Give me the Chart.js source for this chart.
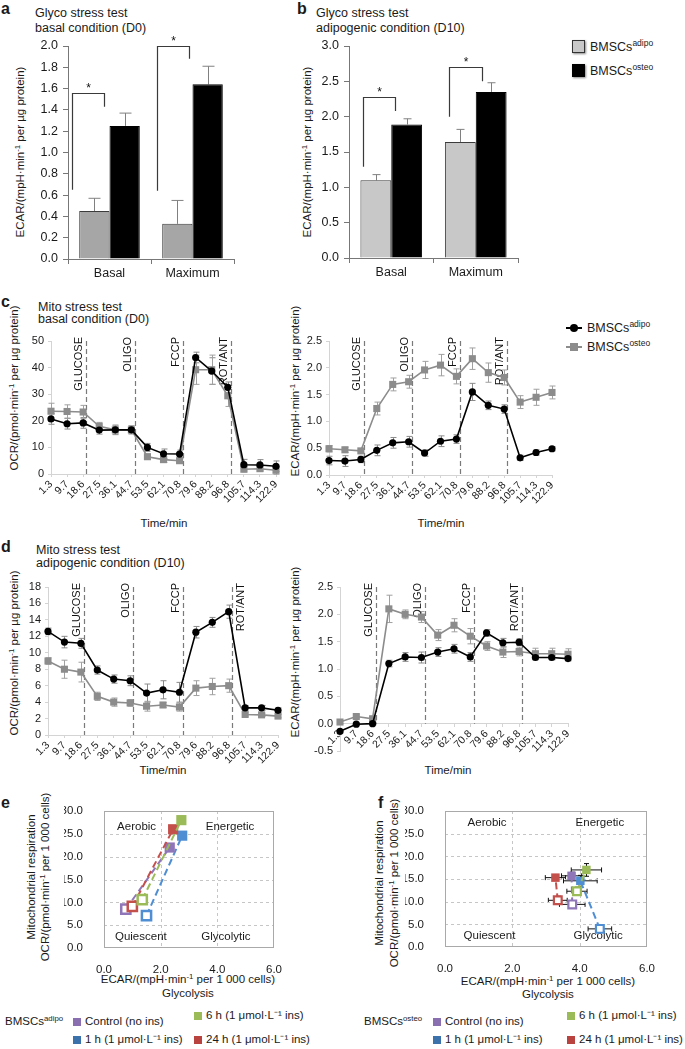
<!DOCTYPE html>
<html>
<head>
<meta charset="utf-8">
<script src="https://cdn.jsdelivr.net/npm/chart.js@4.4.1/dist/chart.umd.min.js"></script>
<style>
body { margin: 0; background: #fff; }
#page { position: relative; width: 685px; height: 1049px; overflow: hidden;
  font-family: "Liberation Sans", Arial, Helvetica, sans-serif; color: #1a1a1a; }
canvas { position: absolute; }
.t { position: absolute; white-space: nowrap; font-size: 12.5px; line-height: 1; transform: translateY(-50%); }
.c { position: absolute; white-space: nowrap; font-size: 11.5px; line-height: 1; transform: translate(-50%, -50%); }
.r { position: absolute; white-space: nowrap; font-size: 11.5px; line-height: 1; transform: translate(-50%, -50%) rotate(-90deg); }
.lt { font-weight: bold; font-size: 16px; }
.sq { position: absolute; width: 8px; height: 8px; }
sup { font-size: 0.68em; vertical-align: 0.55em; line-height: 0; }
</style>
</head>
<body>
<div id="page">
  <!-- panel a / b headings -->
  <div class="t lt" style="left:1px;top:9px">a</div>
  <div class="t" style="left:35px;top:13px">Glyco stress test</div>
  <div class="t" style="left:35px;top:28px">basal condition (D0)</div>
  <div class="r" style="left:21px;top:152px">ECAR/(mpH·min<sup>-1</sup> per µg protein)</div>
  <div class="t lt" style="left:297px;top:9px">b</div>
  <div class="t" style="left:316px;top:13px">Glyco stress test</div>
  <div class="t" style="left:316px;top:28px">adipogenic condition (D10)</div>
  <div class="r" style="left:308px;top:152px">ECAR/(mpH·min<sup>-1</sup> per µg protein)</div>
  <div class="sq" style="left:572px;top:40px;width:11px;height:11px;background:#c8c8c8;border:1px solid #333;box-shadow:1px 1px 2px #888"></div>
  <div class="t" style="left:590px;top:47px">BMSCs<sup>adipo</sup></div>
  <div class="sq" style="left:572px;top:64px;width:11px;height:11px;background:#000;border:1px solid #000;box-shadow:1px 1px 2px #888"></div>
  <div class="t" style="left:590px;top:71px">BMSCs<sup>osteo</sup></div>

  <!-- panel c headings -->
  <div class="t lt" style="left:1px;top:302px">c</div>
  <div class="t" style="left:38px;top:307px">Mito stress test</div>
  <div class="t" style="left:38px;top:319px">basal condition (D0)</div>
  <div class="r" style="left:15px;top:388px">OCR/(pmol·min<sup>-1</sup> per µg protein)</div>
  <div class="r" style="left:296px;top:391px">ECAR/(mpH·min<sup>-1</sup> per µg protein)</div>
  <div class="c" style="left:164px;top:524px">Time/min</div>
  <div class="c" style="left:441px;top:524px">Time/min</div>
  <div style="position:absolute;left:566px;top:327px;width:16px;height:2px;background:#000"></div>
  <div style="position:absolute;left:570px;top:324px;width:8px;height:8px;border-radius:50%;background:#000"></div>
  <div class="t" style="left:587px;top:328px">BMSCs<sup>adipo</sup></div>
  <div style="position:absolute;left:566px;top:346px;width:16px;height:2px;background:#8c8c8c"></div>
  <div style="position:absolute;left:570px;top:343px;width:8px;height:8px;background:#8c8c8c"></div>
  <div class="t" style="left:587px;top:347px">BMSCs<sup>osteo</sup></div>

  <!-- panel d headings -->
  <div class="t lt" style="left:1px;top:547px">d</div>
  <div class="t" style="left:36px;top:550px">Mito stress test</div>
  <div class="t" style="left:36px;top:563px">adipogenic condition (D10)</div>
  <div class="r" style="left:15px;top:653px">OCR/(pmol·min<sup>-1</sup> per µg protein)</div>
  <div class="r" style="left:296px;top:652px">ECAR/(mpH·min<sup>-1</sup> per µg protein)</div>
  <div class="c" style="left:163px;top:771px">Time/min</div>
  <div class="c" style="left:448px;top:771px">Time/min</div>

  <!-- panel e / f headings -->
  <div class="t lt" style="left:1px;top:803px">e</div>
  <div class="r" style="left:32px;top:877px">Mitochondrial respiration</div>
  <div class="r" style="left:46px;top:877px">OCR/(pmol·min<sup>-1</sup> per 1 000 cells)</div>
  <div class="c" style="left:188px;top:980px">ECAR/(mpH·min<sup>-1</sup> per 1 000 cells)</div>
  <div class="c" style="left:188px;top:994px">Glycolysis</div>
  <div class="t lt" style="left:378px;top:803px">f</div>
  <div class="r" style="left:380px;top:883px">Mitochondrial respiration</div>
  <div class="r" style="left:395px;top:883px">OCR/(pmol·min<sup>-1</sup> per 1 000 cells)</div>
  <div class="c" style="left:548px;top:982px">ECAR/(mpH·min<sup>-1</sup> per 1 000 cells)</div>
  <div class="c" style="left:548px;top:995px">Glycolysis</div>
  <div id="legE"></div>
  <div id="legF"></div>

  <canvas id="chartA"></canvas>
  <canvas id="chartB"></canvas>
  <canvas id="chartC1"></canvas>
  <canvas id="chartC2"></canvas>
  <canvas id="chartD1"></canvas>
  <canvas id="chartD2"></canvas>
  <canvas id="chartE"></canvas>
  <canvas id="chartF"></canvas>
</div>
<script>
// ---- data ----
const barGroups = ['Basal', 'Maximum'];
const aAdipo = [0.45, 0.33];
const aAdipoErr = [0.12, 0.22];
const aOsteo = [1.25, 1.64];
const aOsteoErr = [0.12, 0.17];
const bAdipo = [1.10, 1.64];
const bAdipoErr = [0.08, 0.18];
const bOsteo = [1.89, 2.35];
const bOsteoErr = [0.08, 0.13];

const timeLabels = ['1.3', '9.7', '18.6', '27.5', '36.1', '44.7', '53.5', '62.1', '70.8', '79.6', '88.2', '96.8', '105.7', '114.3', '122.9'];
const injections = ['GLUCOSE', 'OLIGO', 'FCCP', 'ROT/ANT'];
const injectionAt = [2.2, 5.2, 8.2, 11.2];

const cOcrAdipo = [20.7, 18.9, 19.2, 16.5, 16.6, 16.6, 10.0, 7.6, 7.5, 43.8, 38.7, 32.6, 3.5, 3.4, 2.9];
const cOcrAdipoErr = [2.0, 2.0, 2.0, 1.5, 1.8, 1.5, 1.5, 1.8, 1.5, 2.0, 5.0, 2.0, 2.0, 2.0, 2.0];
const cOcrOsteo = [23.6, 23.5, 23.3, 17.9, 16.6, 16.6, 6.5, 5.4, 5.0, 39.2, 39.2, 29.4, 1.8, 2.0, 1.4];
const cOcrOsteoErr = [3.0, 2.5, 2.5, 1.5, 1.5, 1.5, 1.0, 1.0, 1.0, 5.5, 5.5, 4.0, 1.0, 1.0, 1.5];
const cEcarAdipo = [0.27, 0.26, 0.29, 0.46, 0.60, 0.62, 0.41, 0.63, 0.67, 1.55, 1.30, 1.23, 0.32, 0.42, 0.49];
const cEcarAdipoErr = [0.08, 0.10, 0.06, 0.10, 0.10, 0.10, 0.06, 0.10, 0.08, 0.16, 0.08, 0.08, 0.05, 0.05, 0.04];
const cEcarOsteo = [0.49, 0.47, 0.45, 1.24, 1.69, 1.74, 1.96, 2.05, 1.84, 2.17, 1.91, 1.82, 1.36, 1.45, 1.54];
const cEcarOsteoErr = [0.06, 0.05, 0.04, 0.12, 0.12, 0.12, 0.16, 0.20, 0.14, 0.20, 0.18, 0.14, 0.12, 0.15, 0.12];

const dOcrAdipo = [12.6, 11.3, 11.15, 7.9, 6.8, 6.6, 5.1, 5.5, 5.2, 12.5, 13.7, 15.0, 3.3, 3.3, 3.0];
const dOcrAdipoErr = [0.4, 0.7, 0.6, 0.5, 0.5, 0.6, 1.1, 1.1, 1.2, 0.7, 0.6, 0.8, 0.3, 0.3, 0.3];
const dOcrOsteo = [9.0, 8.0, 7.65, 4.7, 4.0, 3.9, 3.5, 3.65, 3.4, 5.7, 5.9, 6.0, 2.5, 2.45, 2.3];
const dOcrOsteoErr = [0.4, 1.1, 1.2, 0.5, 0.5, 0.4, 0.6, 0.3, 0.5, 0.9, 1.0, 0.8, 0.2, 0.2, 0.2];
const dEcarAdipo = [-0.14, -0.01, 0.0, 1.1, 1.22, 1.21, 1.31, 1.37, 1.22, 1.66, 1.48, 1.49, 1.21, 1.21, 1.19];
const dEcarAdipoErr = [0.03, 0.02, 0.02, 0.06, 0.08, 0.1, 0.08, 0.08, 0.08, 0.06, 0.08, 0.06, 0.04, 0.04, 0.04];
const dEcarOsteo = [0.03, 0.13, 0.09, 2.1, 2.0, 1.95, 1.62, 1.8, 1.6, 1.42, 1.31, 1.32, 1.28, 1.28, 1.27];
const dEcarOsteoErr = [0.03, 0.03, 0.03, 0.25, 0.08, 0.1, 0.1, 0.12, 0.14, 0.08, 0.1, 0.08, 0.1, 0.1, 0.1];

const insulinGroups = ['Control (no ins)', '1 h (1 μmol·L⁻¹ ins)', '6 h (1 μmol·L⁻¹ ins)', '24 h (1 μmol·L⁻¹ ins)'];
const groupColors = ['#8f76b8', '#4f8ed3', '#9bbb59', '#c4504c'];
const legendColors = ['#8a6fb0', '#3c72ab', '#9bbb59', '#b9443f'];
const eBaseEcar = [0.77, 1.5, 1.35, 1.0];
const eBaseOcr = [8.5, 7.1, 10.6, 9.1];
const eStressEcar = [2.32, 2.76, 2.73, 2.44];
const eStressOcr = [22.0, 24.6, 28.0, 26.0];
const fBaseEcar = [3.78, 4.6, 3.92, 3.35];
const fBaseOcr = [9.4, 4.0, 12.3, 10.3];
const fBaseEcarErr = [0.38, 0.35, 0.3, 0.28];
const fBaseOcrErr = [0.8, 0.6, 0.9, 0.9];
const fStressEcar = [3.76, 4.02, 4.2, 3.28];
const fStressOcr = [15.7, 14.6, 17.0, 15.3];
const fStressEcarErr = [0.3, 0.5, 0.45, 0.3];
const fStressOcrErr = [0.8, 1.2, 1.4, 0.6];
const quadrantNames = ['Aerobic', 'Energetic', 'Quiescent', 'Glycolytic'];

Chart.defaults.font.family = '"Liberation Sans", Arial, Helvetica, sans-serif';
Chart.defaults.color = '#1a1a1a';
const FONT = '"Liberation Sans", Arial, Helvetica, sans-serif';

// put canvas so that its plot area lands on rect [l, t, r, b]; m = margins [l, t, r, b]
function place(id, r, m) {
  const cv = document.getElementById(id);
  cv.width = r[2] - r[0] + m[0] + m[2];
  cv.height = r[3] - r[1] + m[1] + m[3];
  cv.style.left = (r[0] - m[0]) + 'px';
  cv.style.top = (r[1] - m[1]) + 'px';
}

// nudge the canvas so the plot area sits exactly on rect
function fitTo(chart, r) {
  for (let k = 0; k < 4; k++) {
    const a = chart.chartArea;
    const dw = (r[2] - r[0]) - (a.right - a.left);
    const dh = (r[3] - r[1]) - (a.bottom - a.top);
    if (Math.abs(dw) < 0.5 && Math.abs(dh) < 0.5) break;
    chart.resize(chart.width + dw, chart.height + dh);
  }
  const a = chart.chartArea;
  chart.canvas.style.left = Math.round(r[0] - a.left) + 'px';
  chart.canvas.style.top = Math.round(r[1] - a.top) + 'px';
}

function baseOptions(m, bottomPad) {
  return {
    responsive: false, maintainAspectRatio: false, animation: false, devicePixelRatio: 1, events: [],
    layout: { autoPadding: false, padding: { left: 0, top: m[1], right: m[2], bottom: bottomPad || 0 } },
    plugins: { legend: { display: false }, tooltip: { enabled: false } }
  };
}

function drawErrors(chart, after) {
  const ctx = chart.ctx;
  chart.data.datasets.forEach((ds, i) => {
    if (!ds.errY || !!ds.errAfter !== after) return;
    const meta = chart.getDatasetMeta(i);
    const ys = chart.scales[meta.yAxisID], xs = chart.scales[meta.xAxisID];
    ctx.save();
    ctx.strokeStyle = ds.errColor;
    ctx.lineWidth = ds.errWidth || 1;
    meta.data.forEach((el, j) => {
      const raw = ds.data[j];
      const yv = typeof raw === 'object' ? raw.y : raw;
      const x = Math.round(el.x) + 0.5, y = el.y;
      const cap = ds.errCap / 2;
      const yTop = ys.getPixelForValue(yv + ds.errY[j]);
      const yBot = ds.errUp ? y : ys.getPixelForValue(yv - ds.errY[j]);
      ctx.beginPath();
      ctx.moveTo(x, yBot); ctx.lineTo(x, yTop);
      ctx.moveTo(x - cap, yTop); ctx.lineTo(x + cap, yTop);
      if (!ds.errUp) { ctx.moveTo(x - cap, yBot); ctx.lineTo(x + cap, yBot); }
      if (ds.errX) {
        const xl = xs.getPixelForValue(raw.x - ds.errX[j]), xr = xs.getPixelForValue(raw.x + ds.errX[j]);
        ctx.moveTo(xl, y); ctx.lineTo(xr, y);
        ctx.moveTo(xl, y - cap); ctx.lineTo(xl, y + cap);
        ctx.moveTo(xr, y - cap); ctx.lineTo(xr, y + cap);
      }
      ctx.stroke();
    });
    ctx.restore();
  });
}

const errorBarPlugin = {
  id: 'errorBars',
  beforeDatasetsDraw(chart) { drawErrors(chart, false); },
  afterDatasetsDraw(chart) { drawErrors(chart, true); }
};

// significance brackets with a star, positions in category / value units
const bracketPlugin = {
  id: 'brackets',
  afterDatasetsDraw(chart, args, opts) {
    const { ctx, scales: { x, y } } = chart;
    ctx.save();
    ctx.strokeStyle = '#3a3a3a';
    ctx.lineWidth = 1.2;
    ctx.fillStyle = '#111';
    ctx.font = '12px ' + FONT;
    ctx.textAlign = 'center';
    opts.items.forEach(b => {
      const xl = Math.round(x.getPixelForValue(b.cat + b.from)) + 0.5;
      const xr = Math.round(x.getPixelForValue(b.cat + b.to)) + 0.5;
      const yl = y.getPixelForValue(b.low), yt = Math.round(y.getPixelForValue(b.top)) + 0.5, yr = y.getPixelForValue(b.end);
      ctx.beginPath();
      ctx.moveTo(xl, yl); ctx.lineTo(xl, yt); ctx.lineTo(xr, yt); ctx.lineTo(xr, yr);
      ctx.stroke();
      ctx.fillText('*', (xl + xr) / 2, yt - 2);
    });
    ctx.restore();
  }
};

// dashed injection lines with vertical labels
const injectionPlugin = {
  id: 'injections',
  beforeDatasetsDraw(chart, args, opts) {
    const { ctx, chartArea: a, scales: { x, y } } = chart;
    const bottom = y.getPixelForValue(Math.max(0, y.min));
    ctx.save();
    ctx.font = '11px ' + FONT;
    ctx.fillStyle = '#111';
    opts.at.forEach((v, i) => {
      const px = Math.round(x.getPixelForValue(v)) + 0.5;
      ctx.strokeStyle = '#7a7a7a';
      ctx.lineWidth = 1.2;
      ctx.setLineDash([5, 3]);
      ctx.beginPath(); ctx.moveTo(px, a.top); ctx.lineTo(px, bottom); ctx.stroke();
      const right = opts.sides[i] === 'r';
      ctx.save();
      ctx.translate(px + (right ? 3 : -2), a.top - 4);
      ctx.rotate(-Math.PI / 2);
      ctx.textAlign = 'right';
      ctx.textBaseline = right ? 'top' : 'bottom';
      ctx.fillText(opts.names[i], 0, 0);
      ctx.restore();
    });
    ctx.restore();
  }
};

// dashed quadrant grid, frame and quadrant names
const quadrantPlugin = {
  id: 'quadrants',
  beforeDatasetsDraw(chart, args, opts) {
    const { ctx, chartArea: a, scales: { x, y } } = chart;
    ctx.save();
    ctx.strokeStyle = '#c6c6c6';
    ctx.lineWidth = 1;
    ctx.setLineDash([3, 3]);
    ctx.beginPath();
    x.ticks.forEach(t => {
      if (t.value <= x.min || t.value >= x.max) return;
      const px = Math.round(x.getPixelForValue(t.value)) + 0.5;
      ctx.moveTo(px, a.top); ctx.lineTo(px, a.bottom);
    });
    y.ticks.forEach(t => {
      if (t.value <= y.min || t.value >= y.max) return;
      const py = Math.round(y.getPixelForValue(t.value)) + 0.5;
      ctx.moveTo(a.left, py); ctx.lineTo(a.right, py);
    });
    ctx.stroke();
    ctx.setLineDash([]);
    ctx.strokeStyle = '#a9a9a9';
    ctx.strokeRect(Math.round(a.left) + 0.5, Math.round(a.top) + 0.5, Math.round(a.width) - 1, Math.round(a.height) - 1);
    ctx.fillStyle = '#1a1a1a';
    ctx.font = '11.5px ' + FONT;
    ctx.textAlign = 'center';
    ctx.textBaseline = 'middle';
    opts.items.forEach(q => ctx.fillText(q.text, x.getPixelForValue(q.x), y.getPixelForValue(q.y)));
    ctx.restore();
  }
};

// ---- bar charts (a, b) ----
function barChart(id, rect, m, adipo, adipoErr, osteo, osteoErr, grey, yMax, yStep, cap, brackets) {
  place(id, rect, m);
  const axisGrey = '#777';
  const o = baseOptions(m);
  o.datasets = { bar: { categoryPercentage: 0.73, barPercentage: 1 } };
  o.plugins.brackets = { items: brackets };
  o.scales = {
    x: {
      offset: true,
      grid: { offset: true, drawOnChartArea: false, color: axisGrey, tickLength: 5 },
      border: { color: axisGrey },
      ticks: { font: { size: 12.5 }, padding: 2 },
      afterFit: s => { s.height = m[3]; }
    },
    y: {
      min: 0, max: yMax,
      ticks: { stepSize: yStep, callback: v => v.toFixed(1), font: { size: 12.5 }, padding: 5 },
      grid: { drawOnChartArea: false, color: axisGrey, tickLength: 5 },
      border: { color: axisGrey },
      afterFit: s => { s.width = m[0]; }
    }
  };
  const ch = new Chart(id, {
    type: 'bar',
    data: {
      labels: barGroups,
      datasets: [
        { data: adipo, errY: adipoErr, errUp: true, errColor: '#808080', errCap: cap,
          backgroundColor: grey, borderColor: '#3c3c3c', borderWidth: 1 },
        { data: osteo, errY: osteoErr, errUp: true, errColor: '#808080', errCap: cap,
          backgroundColor: '#000', borderColor: '#000', borderWidth: 1 }
      ]
    },
    options: o,
    plugins: [errorBarPlugin, bracketPlugin]
  });
  fitTo(ch, rect);
}

barChart('chartA', [68, 46, 234, 259], [60, 24, 20, 26], aAdipo, aAdipoErr, aOsteo, aOsteoErr, '#a6a6a6', 2, 0.2, 12, [
  { cat: 0, from: -0.45, to: -0.07, low: 0.65, top: 1.56, end: 1.43 },
  { cat: 1, from: -0.43, to: -0.04, low: 0.64, top: 2.0, end: 1.88 }
]);
barChart('chartB', [349, 46, 518, 258], [45, 24, 20, 26], bAdipo, bAdipoErr, bOsteo, bOsteoErr, '#c8c8c8', 3, 0.5, 8, [
  { cat: 0, from: -0.33, to: 0.04, low: 1.29, top: 2.28, end: 2.08 },
  { cat: 1, from: -0.32, to: 0.07, low: 2.0, top: 2.70, end: 2.5 }
]);

// ---- seahorse time courses (c, d) ----
function timeChart(id, rect, m, adipo, adipoErr, osteo, osteoErr, yMin, yMax, yStep, decimals, sides, axisAtZero) {
  place(id, rect, m);
  const light = '#d4d4d4';
  const o = baseOptions(m, axisAtZero ? m[3] : 0);
  o.plugins.injections = { at: injectionAt, names: injections, sides: sides };
  const xScale = {
    offset: false,
    grid: { drawOnChartArea: false, color: light, tickLength: 3 },
    border: { color: light },
    ticks: { autoSkip: false, minRotation: 45, maxRotation: 45, font: { size: 10.5 }, padding: 1 },
    afterFit: s => { s.height = m[3]; }
  };
  if (axisAtZero) xScale.position = { y: 0 };
  o.scales = {
    x: xScale,
    y: {
      min: yMin, max: yMax,
      ticks: { stepSize: yStep, callback: v => decimals ? v.toFixed(decimals) : String(v), font: { size: 11 }, padding: 4 },
      grid: { drawOnChartArea: false, color: light, tickLength: 3 },
      border: { color: light },
      afterFit: s => { s.width = m[0]; }
    }
  };
  const ch = new Chart(id, {
    type: 'line',
    data: {
      labels: timeLabels,
      datasets: [
        { data: adipo, errY: adipoErr, errColor: '#8a8a8a', errCap: 6,
          borderColor: '#000', backgroundColor: '#000', borderWidth: 1.6,
          pointStyle: 'circle', pointRadius: 3.6, pointBorderWidth: 0, tension: 0 },
        { data: osteo, errY: osteoErr, errColor: '#a0a0a0', errCap: 6,
          borderColor: '#8c8c8c', backgroundColor: '#8c8c8c', borderWidth: 1.6,
          pointStyle: 'rect', pointRadius: 5, pointBorderWidth: 0, tension: 0 }
      ]
    },
    options: o,
    plugins: [errorBarPlugin, injectionPlugin]
  });
  fitTo(ch, rect);
}

timeChart('chartC1', [51, 341, 276, 474], [49, 16, 14, 36], cOcrAdipo, cOcrAdipoErr, cOcrOsteo, cOcrOsteoErr,
  0, 50, 5, 0, ['l', 'l', 'l', 'l'], false);
timeChart('chartC2', [329, 341, 552, 475], [40, 16, 14, 36], cEcarAdipo, cEcarAdipoErr, cEcarOsteo, cEcarOsteoErr,
  0, 2.5, 0.5, 1, ['l', 'l', 'l', 'l'], false);
timeChart('chartD1', [48, 587, 278, 735], [46, 16, 14, 36], dOcrAdipo, dOcrAdipoErr, dOcrOsteo, dOcrOsteoErr,
  0, 18, 2, 0, ['l', 'l', 'l', 'r'], false);
timeChart('chartD2', [340, 587, 568, 751], [45, 16, 14, 18], dEcarAdipo, dEcarAdipoErr, dEcarOsteo, dEcarOsteoErr,
  -0.5, 2.5, 0.5, 1, ['l', 'l', 'l', 'l'], true);

// ---- energy phenotype (e, f) ----
function phenoChart(id, rect, m, baseX, baseY, stressX, stressY, errs, sizes, quads) {
  place(id, rect, m);
  const o = baseOptions(m);
  o.plugins.quadrants = { items: quads };
  o.scales = {
    x: {
      type: 'linear', min: 0, max: 6,
      ticks: { stepSize: 2, callback: v => v.toFixed(1), font: { size: 11.5 }, padding: 7 },
      grid: { display: false }, border: { display: false },
      afterFit: s => { s.height = m[3]; }
    },
    y: {
      min: 0, max: 30,
      ticks: { stepSize: 5, callback: v => v.toFixed(1), font: { size: 11.5 }, padding: 13 },
      grid: { display: false }, border: { display: false },
      afterFit: s => { s.width = m[0]; }
    }
  };
  const drawOrder = [1, 0, 3, 2];
  const datasets = drawOrder.map(g => {
    const ds = {
      data: [{ x: baseX[g], y: baseY[g] }, { x: stressX[g], y: stressY[g] }],
      showLine: true, borderColor: groupColors[g], borderWidth: 2, borderDash: [7, 4],
      pointStyle: 'rect', pointRadius: [sizes.open, sizes.filled],
      pointBackgroundColor: ['#fff', groupColors[g]], pointBorderColor: groupColors[g],
      pointBorderWidth: [sizes.ring, 0]
    };
    if (errs) {
      Object.assign(ds, {
        errY: [errs.baseY[g], errs.stressY[g]], errX: [errs.baseX[g], errs.stressX[g]],
        errColor: '#111', errCap: 5
      });
    }
    return ds;
  });
  const ch = new Chart(id, { type: 'scatter', data: { datasets: datasets.reverse() }, options: o, plugins: [errorBarPlugin, quadrantPlugin] });
  fitTo(ch, rect);
}

phenoChart('chartE', [104, 811, 274, 948], [40, 26, 24, 30], eBaseEcar, eBaseOcr, eStressEcar, eStressOcr, null,
  { open: 6.5, filled: 7.2, ring: 2.5 },
  [{ text: quadrantNames[0], x: 1.15, y: 26.5 }, { text: quadrantNames[1], x: 4.45, y: 26.5 },
   { text: quadrantNames[2], x: 1.3, y: 2.4 }, { text: quadrantNames[3], x: 4.3, y: 2.5 }]);
phenoChart('chartF', [445, 811, 647, 947], [40, 26, 24, 30], fBaseEcar, fBaseOcr, fStressEcar, fStressOcr,
  { baseX: fBaseEcarErr, baseY: fBaseOcrErr, stressX: fStressEcarErr, stressY: fStressOcrErr },
  { open: 5.5, filled: 6, ring: 2.2 },
  [{ text: quadrantNames[0], x: 1.25, y: 27.4 }, { text: quadrantNames[1], x: 4.6, y: 27.4 },
   { text: quadrantNames[2], x: 1.32, y: 2.5 }, { text: quadrantNames[3], x: 4.55, y: 2.5 }]);

// ---- legends for e and f ----
function phenoLegend(hostId, x0, cell, sup) {
  const host = document.getElementById(hostId);
  const spots = [[cell[0], 1022], [cell[0], 1040], [cell[1], 1016], [cell[1], 1040]];
  let html = '<div class="t" style="font-size:11.5px;left:' + x0 + 'px;top:1022px">BMSCs<sup>' + sup + '</sup></div>';
  insulinGroups.forEach((name, g) => {
    const [sx, sy] = spots[g];
    html += '<div class="sq" style="left:' + sx + 'px;top:' + (sy - 4) + 'px;background:' + legendColors[g] + '"></div>';
    html += '<div class="t" style="font-size:11.5px;left:' + (sx + 12) + 'px;top:' + sy + 'px">' + name + '</div>';
  });
  host.innerHTML = html;
}
phenoLegend('legE', 5, [73, 194], 'adipo');
phenoLegend('legF', 364, [433, 567], 'osteo');
</script>
</body>
</html>
